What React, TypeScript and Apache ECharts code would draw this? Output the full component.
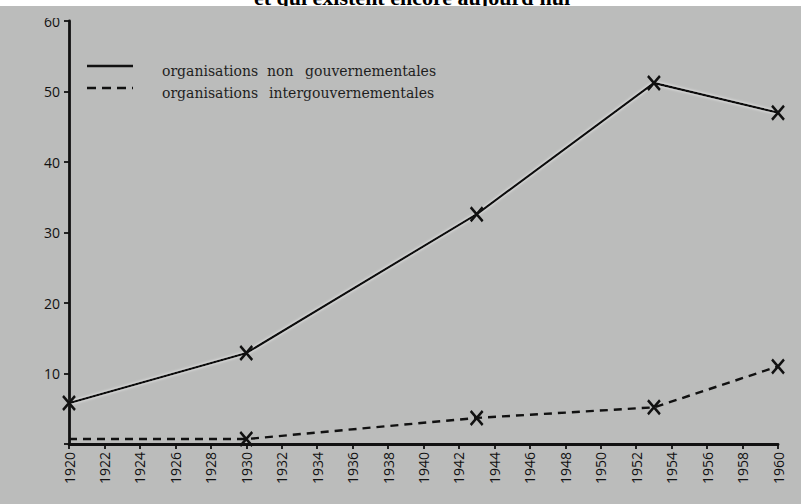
import React, { useEffect, useRef } from "react";
import * as echarts from "echarts";

const years = [1920, 1930, 1943, 1953, 1960];
const ngoValues = [5.8, 12.9, 32.6, 51.2, 47.0];
const igoValues = [0.7, 0.7, 3.7, 5.2, 11.0];
const ngoLabel = "organisations non gouvernementales";
const igoLabel = "organisations intergouvernementales";
const topCaption = "et qui existent encore aujourd'hui";

const BG = "#bbbcbb";
const INK = "#111111";
const crossSymbol = "path://M0,0L10,12M10,0L0,12";

export default function App() {
  const ref = useRef<HTMLDivElement>(null);
  useEffect(() => {
    if (!ref.current) return;
    const chart = echarts.init(ref.current, null, { renderer: "svg" });
    const halo = { shadowColor: "rgba(255,255,255,0.9)", shadowBlur: 3 };
    const markerStyle = { color: INK, borderColor: INK, borderWidth: 2.6 };
    const ngoWords = ngoLabel.split(" ");
    const igoWords = igoLabel.split(" ");
    const serif = "'DejaVu Serif', serif";
    const wordStyle = (text: string) => ({ text, fill: "#1e1e1e", font: `14px ${serif}`, verticalAlign: "middle" });
    const sans = "'Open Sans', sans-serif";
    chart.setOption({
      animation: false,
      backgroundColor: BG,
      grid: { left: 69, right: 23, top: 21, bottom: 60, containLabel: false, outerBoundsMode: "none" },
      xAxis: {
        type: "value",
        min: 1920,
        max: 1960,
        interval: 2,
        axisLine: { show: true, onZero: false, lineStyle: { color: INK, width: 2.8 } },
        axisTick: { show: true, length: 5, lineStyle: { color: INK, width: 1.8 } },
        axisLabel: { rotate: 90, margin: 8, color: "#111", fontSize: 14, fontWeight: 500, fontFamily: sans, formatter: (v: number) => String(v) },
        splitLine: { show: false },
      },
      yAxis: {
        type: "value",
        min: 0,
        max: 60,
        interval: 10,
        axisLine: { show: true, onZero: false, lineStyle: { color: INK, width: 2.8 } },
        axisTick: { show: true, length: 5, lineStyle: { color: INK, width: 1.8 } },
        axisLabel: { margin: 9, color: "#111", fontSize: 14, fontWeight: 500, fontFamily: sans, formatter: (v: number) => (v === 0 ? "" : String(v)) },
        splitLine: { show: false },
      },
      series: [
        {
          name: ngoLabel,
          type: "line",
          data: years.map((y, i) => [y, ngoValues[i]]),
          symbol: crossSymbol,
          symbolSize: [12, 14],
          itemStyle: markerStyle,
          lineStyle: { color: INK, width: 2.4, ...halo },
          z: 3,
        },
        {
          name: igoLabel,
          type: "line",
          data: years.map((y, i) => (i === 0 ? { value: [y, igoValues[i]], symbol: "none" } : [y, igoValues[i]])),
          symbol: crossSymbol,
          symbolSize: [12, 14],
          itemStyle: markerStyle,
          lineStyle: { color: INK, width: 2.4, type: [8, 6] },
          z: 3,
        },
      ],
      graphic: [
        { type: "rect", shape: { x: 0, y: 0, width: 801, height: 6 }, style: { fill: "#ffffff" }, z: 0 },
        {
          type: "text",
          x: 412,
          y: -3,
          style: { text: topCaption, fill: "#000", font: "bold 22px 'Liberation Serif', serif", align: "center", verticalAlign: "middle" },
          z: 1,
        },
        { type: "rect", shape: { x: 0, y: 6, width: 801, height: 12 }, style: { fill: BG }, z: 2 },
        { type: "line", shape: { x1: 87, y1: 66, x2: 133, y2: 66 }, style: { stroke: INK, lineWidth: 2.4 }, z: 5 },
        { type: "line", shape: { x1: 87, y1: 88, x2: 133, y2: 88 }, style: { stroke: INK, lineWidth: 2.4, lineDash: [9, 6] }, z: 5 },
        { type: "text", x: 162, y: 71, style: wordStyle(ngoWords[0]), z: 5 },
        { type: "text", x: 267, y: 71, style: wordStyle(ngoWords[1]), z: 5 },
        { type: "text", x: 305, y: 71, style: wordStyle(ngoWords[2]), z: 5 },
        { type: "text", x: 162, y: 93, style: wordStyle(igoWords[0]), z: 5 },
        { type: "text", x: 269, y: 93, style: wordStyle(igoWords[1]), z: 5 },
      ],
    });
    return () => chart.dispose();
  }, []);
  return <div ref={ref} style={{ position: "absolute", left: 0, top: 0, width: 801, height: 504 }} />;
}
